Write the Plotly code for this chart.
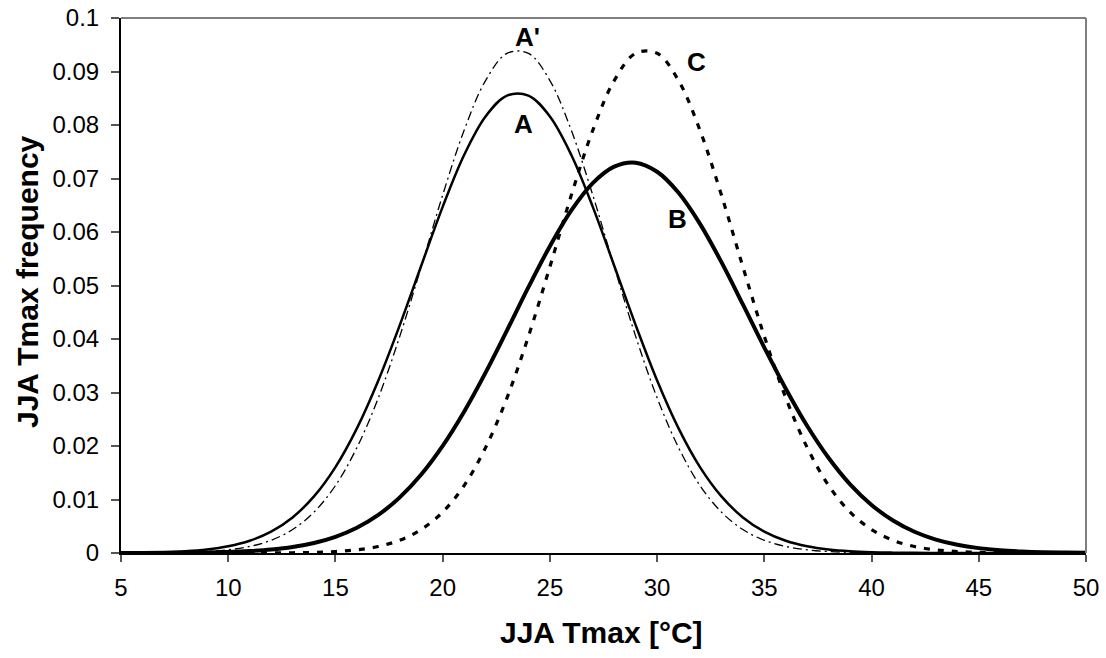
import plotly.graph_objects as go

# ---- data ----
temp_c = [5, 6, 7, 8, 9, 10, 11, 12, 13, 14, 15, 16, 17, 18, 19, 20, 21, 22, 23, 24,
          25, 26, 27, 28, 29, 30, 31, 32, 33, 34, 35, 36, 37, 38, 39, 40, 41, 42, 43, 44,
          45, 46, 47, 48, 49, 50]

freq_A = [0.00003, 0.00007, 0.00015, 0.00032, 0.00065, 0.00125, 0.00228, 0.00399, 0.00665, 0.01058,
          0.01606, 0.0233, 0.03225, 0.0426, 0.0537, 0.0647, 0.0744, 0.0816, 0.0855, 0.0855,
          0.0816, 0.0744, 0.0647, 0.0537, 0.0426, 0.03225, 0.0233, 0.01606, 0.01058, 0.00665,
          0.00399, 0.00228, 0.00125, 0.00065, 0.00032, 0.00015, 0.00007, 0.00003, 0.00001, 0.0,
          0.0, 0.0, 0.0, 0.0, 0.0, 0.0]

freq_A_prime = [0.000007, 0.000019, 0.000049, 0.000118, 0.000272, 0.000591, 0.00122, 0.00238, 0.00438, 0.00764,
                0.0126, 0.0197, 0.0290, 0.0405, 0.0535, 0.0669, 0.0790, 0.0883, 0.0934, 0.0934,
                0.0883, 0.0790, 0.0669, 0.0535, 0.0405, 0.0290, 0.0197, 0.0126, 0.00764, 0.00438,
                0.00238, 0.00122, 0.000591, 0.000272, 0.000118, 0.000049, 0.000019, 0.000007, 0.0, 0.0,
                0.0, 0.0, 0.0, 0.0, 0.0, 0.0]

freq_B = [0.000006, 0.000012, 0.000026, 0.000053, 0.000104, 0.000199, 0.000366, 0.000653, 0.001125, 0.00188,
          0.00303, 0.00472, 0.00712, 0.0104, 0.01467, 0.02002, 0.02641, 0.03371, 0.04161, 0.04968,
          0.05735, 0.06404, 0.06915, 0.07222, 0.07295, 0.07126, 0.06733, 0.06152, 0.05436, 0.04646,
          0.0384, 0.0307, 0.02373, 0.01775, 0.01283, 0.00897, 0.00607, 0.00397, 0.00251, 0.00154,
          0.00091, 0.00052, 0.00029, 0.00015, 0.00008, 0.00004]

freq_C = [0.0, 0.0, 0.0, 0.0, 0.0, 0.0, 0.000007, 0.000019, 0.000049, 0.000118,
          0.000272, 0.000591, 0.00122, 0.00238, 0.00438, 0.00764, 0.0126, 0.0197, 0.0290, 0.0405,
          0.0535, 0.0669, 0.0790, 0.0883, 0.0934, 0.0934, 0.0883, 0.0790, 0.0669, 0.0535,
          0.0405, 0.0290, 0.0197, 0.0126, 0.00764, 0.00438, 0.00238, 0.00122, 0.000591, 0.000272,
          0.000118, 0.000049, 0.000019, 0.000007, 0.0, 0.0]

x_tick_values = [5, 10, 15, 20, 25, 30, 35, 40, 45, 50]
y_tick_values = [0, 0.01, 0.02, 0.03, 0.04, 0.05, 0.06, 0.07, 0.08, 0.09, 0.1]
y_tick_labels = ["0", "0.01", "0.02", "0.03", "0.04", "0.05", "0.06", "0.07", "0.08", "0.09", "0.1"]

curve_labels = ["A'", "A", "C", "B"]
curve_label_x = [23.95, 23.76, 31.83, 30.94]
curve_label_y = [0.0964, 0.0802, 0.0917, 0.0624]

x_title = "JJA Tmax [°C]"
y_title = "JJA Tmax frequency"

FONT = "Arial, 'Liberation Sans', sans-serif"

fig = go.Figure()
fig.add_trace(go.Scatter(x=temp_c, y=freq_A_prime, mode="lines", line_shape="spline", name="A'",
                         line=dict(color="black", width=1.3, dash="9px,4px,2px,4px")))
fig.add_trace(go.Scatter(x=temp_c, y=freq_C, mode="lines", line_shape="spline", name="C",
                         line=dict(color="black", width=3.2, dash="6px,8px")))
fig.add_trace(go.Scatter(x=temp_c, y=freq_A, mode="lines", line_shape="spline", name="A",
                         line=dict(color="black", width=2.5)))
fig.add_trace(go.Scatter(x=temp_c, y=freq_B, mode="lines", line_shape="spline", name="B",
                         line=dict(color="black", width=4)))

for t, lx, ly in zip(curve_labels, curve_label_x, curve_label_y):
    fig.add_annotation(x=lx, y=ly, text=t, showarrow=False, xanchor="center", yanchor="middle",
                       font=dict(family=FONT, size=26, color="black", weight="bold"))

fig.add_annotation(xref="paper", yref="paper", x=0.498, y=-0.1495, text=x_title, showarrow=False,
                   xanchor="center", yanchor="middle",
                   font=dict(family=FONT, size=30, color="black", weight="bold"))
fig.add_annotation(xref="paper", yref="paper", x=-0.0974, y=0.5065, text=y_title, showarrow=False,
                   textangle=-90, xanchor="center", yanchor="middle",
                   font=dict(family=FONT, size=30, color="black", weight="bold"))

# gray top/right frame
fig.add_shape(type="line", xref="x domain", yref="y domain", x0=0, x1=1, y0=1, y1=1,
              line=dict(color="#7f7f7f", width=2))
fig.add_shape(type="line", xref="x domain", yref="y domain", x0=1, x1=1, y0=0, y1=1,
              line=dict(color="#7f7f7f", width=2))

fig.update_layout(
    width=1106, height=658,
    margin=dict(l=121, r=20, t=18, b=105, autoexpand=False),
    paper_bgcolor="white", plot_bgcolor="white",
    showlegend=False,
    font=dict(family=FONT, size=24, color="black"),
)
fig.update_xaxes(range=[5, 50], tickvals=x_tick_values, ticks="outside", ticklen=7, tickwidth=1.5,
                 tickcolor="#555555", showline=True, linecolor="black", linewidth=2,
                 showgrid=False, zeroline=False, automargin=False, ticklabelstandoff=5,
                 ticklabeloverflow="allow",
                 tickfont=dict(size=24, family=FONT, color="black"))
fig.update_yaxes(range=[0, 0.1], tickvals=y_tick_values, ticktext=y_tick_labels, ticks="outside",
                 ticklen=8, tickwidth=1.5, tickcolor="#555555", showline=True, linecolor="black",
                 linewidth=2, showgrid=False, zeroline=False, automargin=False, ticklabelstandoff=7,
                 ticklabeloverflow="allow",
                 tickfont=dict(size=24, family=FONT, color="black"))

fig.write_html("out.html", config={"displayModeBar": False},
               post_script="document.body.style.margin='0';document.body.style.overflow='hidden';")
